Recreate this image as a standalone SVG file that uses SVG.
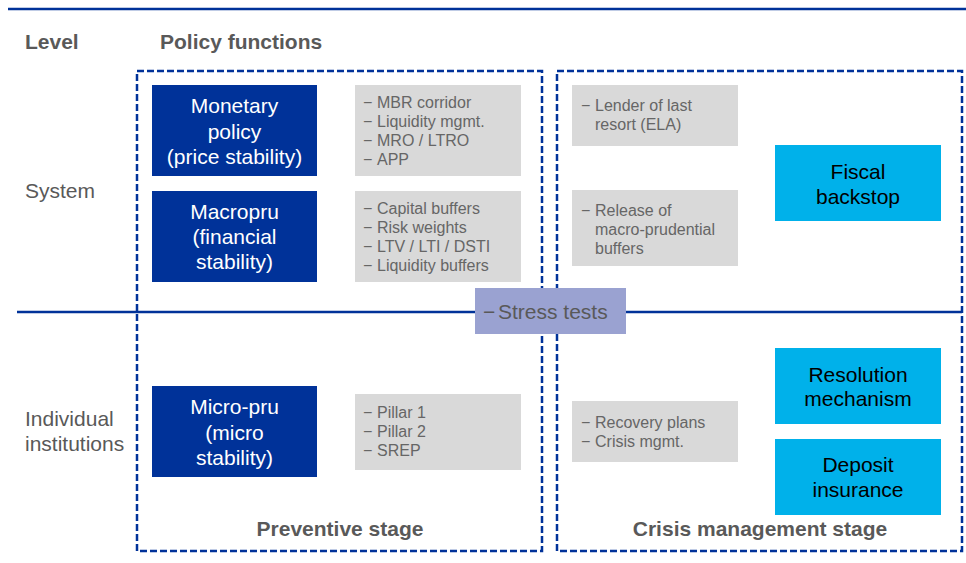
<svg xmlns="http://www.w3.org/2000/svg" width="966" height="563" viewBox="0 0 966 563">
<style>
text{font-family:"Liberation Sans",Arial,sans-serif}
.hdr{font-size:21px;font-weight:bold;fill:#595959}
.lvl{font-size:21px;fill:#595959}
.stage{font-size:21px;font-weight:bold;fill:#595959;text-anchor:middle}
.dark{fill:#003299}
.light{fill:#00B1EA}
.grey{fill:#D9D9D9}
.wt{font-size:21px;fill:#ffffff;text-anchor:middle}
.bt{font-size:21px;fill:#000000;text-anchor:middle}
.gt{font-size:16px;fill:#666666}
.dash{fill:none;stroke:#003299;stroke-width:2.5;stroke-dasharray:7 3}
.rule{stroke:#003299;stroke-width:2.5;fill:none}
</style>
<rect width="966" height="563" fill="#ffffff"/>
<line class="rule" x1="8" y1="9" x2="966" y2="9"/>
<text class="hdr" x="25" y="49">Level</text>
<text class="hdr" x="160" y="49">Policy functions</text>
<text class="lvl" x="25" y="198">System</text>
<text class="lvl" x="25" y="426">Individual</text>
<text class="lvl" x="25" y="451">institutions</text>

<g id="connectors">
<line class="rule" x1="17" y1="312" x2="962" y2="312"/>
</g>

<g id="preventive">
<rect class="dash" x="137" y="71" width="405" height="480"/>
<text class="stage" x="340" y="536">Preventive stage</text>
</g>
<g id="crisis">
<rect class="dash" x="557" y="71" width="405" height="480"/>
<text class="stage" x="760" y="536">Crisis management stage</text>
</g>

<g id="monetary">
<rect class="dark" x="152" y="85" width="165" height="91"/>
<text class="wt" x="234.5" y="113">Monetary</text>
<text class="wt" x="234.5" y="139">policy</text>
<text class="wt" x="234.5" y="164">(price stability)</text>
</g>
<g id="monetary-tools">
<rect class="grey" x="355" y="85" width="166" height="91"/>
<text class="gt" x="363" y="108">−<tspan x="377">MBR corridor</tspan></text>
<text class="gt" x="363" y="127">−<tspan x="377">Liquidity mgmt.</tspan></text>
<text class="gt" x="363" y="146">−<tspan x="377">MRO / LTRO</tspan></text>
<text class="gt" x="363" y="165">−<tspan x="377">APP</tspan></text>
</g>

<g id="macropru">
<rect class="dark" x="152" y="191" width="165" height="91"/>
<text class="wt" x="234.5" y="219">Macropru</text>
<text class="wt" x="234.5" y="244">(financial</text>
<text class="wt" x="234.5" y="269">stability)</text>
</g>
<g id="macropru-tools">
<rect class="grey" x="355" y="191" width="166" height="91"/>
<text class="gt" x="363" y="214">−<tspan x="377">Capital buffers</tspan></text>
<text class="gt" x="363" y="233">−<tspan x="377">Risk weights</tspan></text>
<text class="gt" x="363" y="252">−<tspan x="377">LTV / LTI / DSTI</tspan></text>
<text class="gt" x="363" y="271">−<tspan x="377">Liquidity buffers</tspan></text>
</g>

<g id="microPru">
<rect class="dark" x="152" y="386" width="165" height="91"/>
<text class="wt" x="234.5" y="414">Micro-pru</text>
<text class="wt" x="234.5" y="440">(micro</text>
<text class="wt" x="234.5" y="465">stability)</text>
</g>
<g id="micro-tools">
<rect class="grey" x="355" y="394" width="166" height="76"/>
<text class="gt" x="363" y="418">−<tspan x="377">Pillar 1</tspan></text>
<text class="gt" x="363" y="437">−<tspan x="377">Pillar 2</tspan></text>
<text class="gt" x="363" y="456">−<tspan x="377">SREP</tspan></text>
</g>

<g id="lolr">
<rect class="grey" x="572" y="85" width="166" height="61"/>
<text class="gt" x="581" y="111">−<tspan x="595">Lender of last</tspan></text>
<text class="gt" x="595" y="130">resort (ELA)</text>
</g>
<g id="release">
<rect class="grey" x="572" y="190" width="166" height="76"/>
<text class="gt" x="581" y="216">−<tspan x="595">Release of</tspan></text>
<text class="gt" x="595" y="235">macro-prudential</text>
<text class="gt" x="595" y="254">buffers</text>
</g>
<g id="recovery">
<rect class="grey" x="572" y="401" width="166" height="61"/>
<text class="gt" x="581" y="428">−<tspan x="595">Recovery plans</tspan></text>
<text class="gt" x="581" y="447">−<tspan x="595">Crisis mgmt.</tspan></text>
</g>

<g id="fiscal">
<rect class="light" x="775" y="145" width="166" height="76"/>
<text class="bt" x="858" y="179">Fiscal</text>
<text class="bt" x="858" y="204">backstop</text>
</g>
<g id="resolution">
<rect class="light" x="775" y="348" width="166" height="76"/>
<text class="bt" x="858" y="382">Resolution</text>
<text class="bt" x="858" y="406">mechanism</text>
</g>
<g id="deposit">
<rect class="light" x="775" y="439" width="166" height="76"/>
<text class="bt" x="858" y="472">Deposit</text>
<text class="bt" x="858" y="497">insurance</text>
</g>

<g id="stress">
<rect x="475" y="288" width="151" height="46" fill="#9AA2D1"/>
<text x="483" y="319" font-size="21" fill="#595959">−<tspan x="498">Stress tests</tspan></text>
</g>
</svg>
